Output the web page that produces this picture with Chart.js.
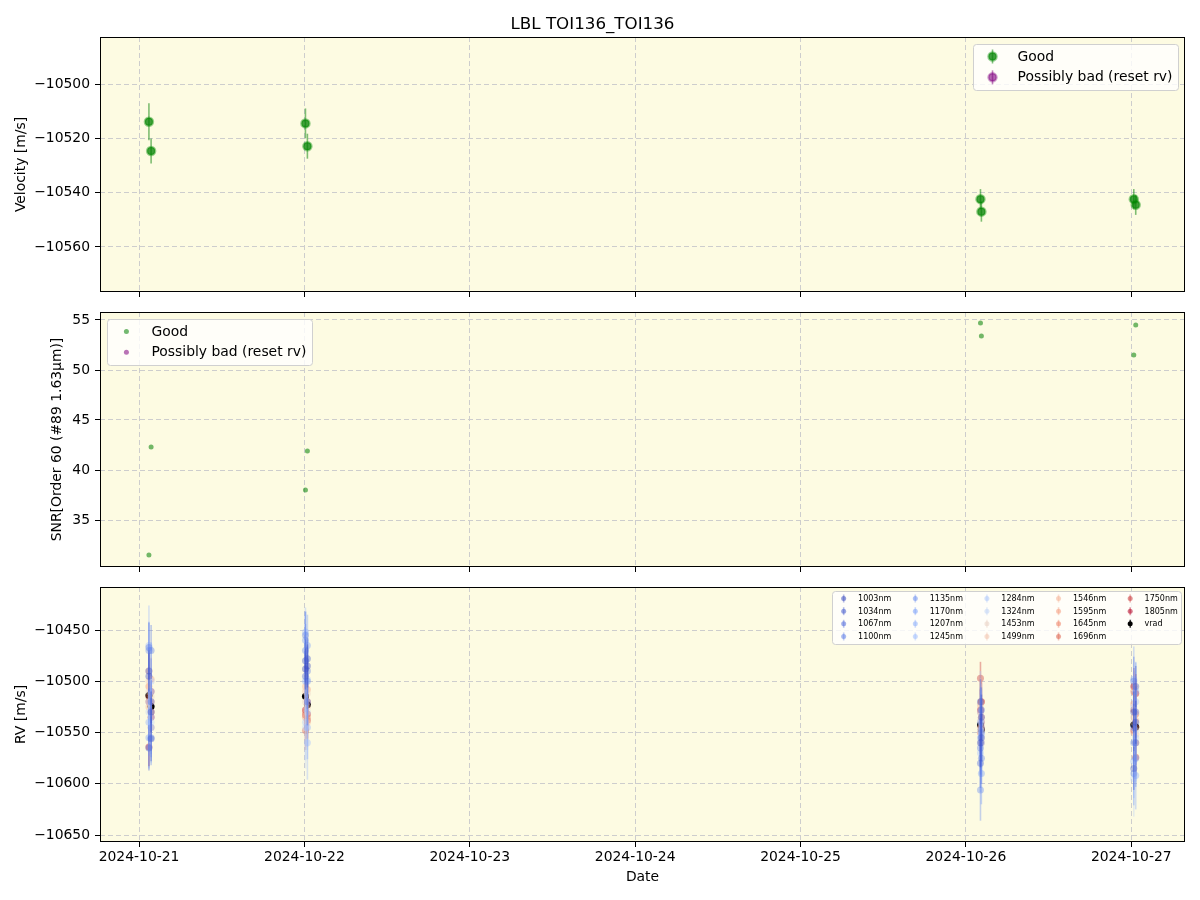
<!DOCTYPE html>
<html>
<head>
<meta charset="utf-8">
<script src="https://cdn.jsdelivr.net/npm/chart.js@4.4.1/dist/chart.umd.min.js"></script>
<style>
    body { margin: 0; background: #ffffff; width: 1200px; height: 900px; position: relative; overflow: hidden; }
    canvas { position: absolute; left: 0; }
</style>
</head>
<body>
<canvas id="velocity-chart" width="1200" height="300" style="top:0px"></canvas>
<canvas id="snr-chart" width="1200" height="275" style="top:300px"></canvas>
<canvas id="rv-chart" width="1200" height="325" style="top:575px"></canvas>
<script>
// LBL TOI136 - velocity, SNR and per-band RV panels

// observation times (UTC)
var obsTimes = ['2024-10-21T01:26', '2024-10-21T01:45', '2024-10-22T00:09', '2024-10-22T00:26',
                '2024-10-26T02:07', '2024-10-26T02:15', '2024-10-27T00:22', '2024-10-27T00:39'];

// top panel: velocity [m/s] and errors
var velocity = [-10513.9, -10524.7, -10514.5, -10522.9, -10542.4, -10547.0, -10542.4, -10544.5];
var velocityErr = [6.8, 4.6, 5.5, 4.6, 3.7, 3.7, 3.7, 3.7];

// middle panel: SNR order 60
var snr = [31.5, 42.3, 38.0, 41.9, 54.7, 53.4, 51.5, 54.5];

// bottom panel: RV per wavelength band
var wavelengths = [1003, 1034, 1067, 1100, 1135, 1170, 1207, 1245, 1284, 1324, 1453, 1499, 1546, 1595, 1645, 1696, 1750, 1805];
var rvByWave = [
    [-10495, -10530, -10488, -10485, -10560, -10535, -10530, -10540],
    [-10490, -10556, -10480, -10478, -10520, -10555, -10585, -10505],
    [-10565, -10520, -10495, -10520, -10580, -10528, -10545, -10560],
    [-10467, -10470, -10455, -10490, -10565, -10575, -10500, -10530],
    [-10470, -10555, -10470, -10500, -10606, -10550, -10560, -10575],
    [-10555, -10545, -10460, -10465, -10555, -10590, -10590, -10510],
    [-10540, -10510, -10500, -10545, -10540, -10560, -10498, -10592],
    [-10465, -10535, -10452, -10560, -10570, -10545, -10578, -10520],
    [-10520, -10500, -10540, -10498, -10530, -10552, -10525, -10555],
    [-10530, -10540, -10545, -10530, -10548, -10540, -10595, -10548],
    [-10510, -10515, -10520, -10512, -10538, -10555, -10540, -10530],
    [-10500, -10530, -10510, -10525, -10525, -10548, -10535, -10552],
    [-10525, -10545, -10505, -10540, -10522, -10560, -10550, -10538],
    [-10490, -10498, -10535, -10508, -10545, -10535, -10522, -10560],
    [-10505, -10520, -10530, -10535, -10530, -10520, -10510, -10545],
    [-10515, -10530, -10548, -10520, -10550, -10545, -10528, -10532],
    [-10520, -10510, -10533, -10538, -10497, -10540, -10548, -10574],
    [-10564, -10535, -10528, -10532, -10528, -10520, -10505, -10512]
];
var errByWave = [
    [22, 20, 20, 21, 24, 22, 20, 21],
    [20, 22, 21, 20, 22, 23, 21, 20],
    [22, 21, 22, 23, 24, 22, 23, 22],
    [24, 25, 23, 24, 26, 25, 24, 25],
    [28, 27, 26, 27, 30, 28, 27, 28],
    [30, 29, 28, 30, 32, 30, 31, 29],
    [33, 32, 30, 31, 34, 33, 32, 33],
    [39, 36, 24, 36, 38, 37, 36, 38],
    [40, 38, 37, 38, 40, 39, 38, 40],
    [38, 40, 40, 37, 39, 38, 37, 38],
    [30, 28, 29, 30, 31, 30, 29, 30],
    [26, 25, 24, 25, 27, 26, 25, 26],
    [24, 23, 22, 24, 25, 24, 23, 24],
    [22, 21, 21, 22, 23, 22, 22, 23],
    [21, 20, 20, 21, 22, 21, 20, 22],
    [20, 19, 19, 20, 21, 20, 19, 20],
    [17, 18, 17, 18, 16, 19, 18, 18],
    [19, 20, 18, 19, 20, 19, 18, 19]
];

// axis ticks and limits
var dayTicks = ['2024-10-21', '2024-10-22', '2024-10-23', '2024-10-24', '2024-10-25', '2024-10-26', '2024-10-27'];
var dateMin = '2024-10-20T18:20';
var dateMax = '2024-10-27T07:48';
var velTicks = [-10560, -10540, -10520, -10500];
var snrTicks = [35, 40, 45, 50, 55];
var rvTicks = [-10650, -10600, -10550, -10500, -10450];

var FONT = '"DejaVu Sans", sans-serif';
var FS = 13.9;
Chart.defaults.font.family = FONT;
Chart.defaults.font.size = FS;
Chart.defaults.color = '#000';

function toMs(s) {
    return Date.parse(s + ':00Z');
}

function minusSign(v) {
    return String(v).replace('-', '\u2212');
}

var obsX = obsTimes.map(toMs);

// matplotlib coolwarm colormap stops
var coolwarmStops = [[59, 76, 192], [89, 119, 227], [123, 159, 249], [158, 190, 255], [192, 212, 245],
    [221, 220, 220], [242, 203, 183], [247, 172, 142], [238, 132, 104], [214, 82, 68], [180, 4, 38]];

function coolwarm(t, a) {
    var p = Math.max(0, Math.min(1, t)) * 10;
    var k = Math.min(9, Math.floor(p));
    var f = p - k;
    var c = coolwarmStops[k].map(function (v, j) {
        return Math.round(v + (coolwarmStops[k + 1][j] - v) * f);
    });
    return 'rgba(' + c.join(',') + ',' + a + ')';
}

// plot area background
var bgPlugin = {
    id: 'bgPlugin',
    beforeDraw: function (chart) {
        var a = chart.chartArea;
        chart.ctx.save();
        chart.ctx.fillStyle = '#fdfbe2';
        chart.ctx.fillRect(a.left, a.top, a.right - a.left, a.bottom - a.top);
        chart.ctx.restore();
    }
};

// black box around plot area
var framePlugin = {
    id: 'framePlugin',
    afterDatasetsDraw: function (chart) {
        var a = chart.chartArea;
        var ctx = chart.ctx;
        ctx.save();
        ctx.strokeStyle = '#000';
        ctx.lineWidth = 1;
        ctx.strokeRect(Math.round(a.left) + 0.5, Math.round(a.top) + 0.5,
            Math.round(a.right - a.left) - 1, Math.round(a.bottom - a.top) - 1);
        ctx.restore();
    }
};

// vertical error bars, drawn under each dataset's points
var errorBarPlugin = {
    id: 'errorBarPlugin',
    beforeDatasetDraw: function (chart, args) {
        var ds = chart.data.datasets[args.index];
        if (!ds.errors) return;
        var yScale = chart.scales.y;
        var a = chart.chartArea;
        var ctx = chart.ctx;
        ctx.save();
        ctx.beginPath();
        ctx.rect(a.left, a.top, a.right - a.left, a.bottom - a.top);
        ctx.clip();
        ctx.strokeStyle = ds.errorColor;
        ctx.lineWidth = ds.errorWidth || 1.5;
        args.meta.data.forEach(function (pt, i) {
            var v = ds.data[i].y;
            var e = ds.errors[i];
            ctx.beginPath();
            ctx.moveTo(pt.x, yScale.getPixelForValue(v + e));
            ctx.lineTo(pt.x, yScale.getPixelForValue(v - e));
            ctx.stroke();
        });
        ctx.restore();
    }
};

// matplotlib style legend box (column major)
var boxLegendPlugin = {
    id: 'boxLegend',
    afterDraw: function (chart, args, opts) {
        var ctx = chart.ctx;
        var a = chart.chartArea;
        var f = opts.fontSize;
        var items = chart.data.datasets;
        var ncol = opts.columns || 1;
        var nrow = Math.ceil(items.length / ncol);
        var pad = 0.4 * f, handleLen = 2 * f, textPad = 0.8 * f, colSpace = 2 * f;
        var rowH = (opts.textH || 1) * f, rowGap = 0.5 * f, axPad = 0.5 * f;
        ctx.save();
        ctx.font = f + 'px ' + FONT;
        var colW = [];
        items.forEach(function (ds, i) {
            var c = Math.floor(i / nrow);
            colW[c] = Math.max(colW[c] || 0, ctx.measureText(ds.label).width);
        });
        var width = 2 * pad + (ncol - 1) * colSpace;
        colW.forEach(function (w) { width += handleLen + textPad + w; });
        var height = 2 * pad + nrow * rowH + (nrow - 1) * rowGap;
        var x0 = opts.align === 'right' ? a.right - axPad - width : a.left + axPad;
        var y0 = a.top + axPad;

        ctx.beginPath();
        ctx.roundRect(Math.round(x0) + 0.5, Math.round(y0) + 0.5, Math.round(width), Math.round(height), 3);
        ctx.fillStyle = 'rgba(255,255,255,0.8)';
        ctx.fill();
        ctx.strokeStyle = '#d0d0d0';
        ctx.lineWidth = 1;
        ctx.stroke();

        var colX = [x0 + pad];
        for (var c = 1; c < colW.length; c++) {
            colX[c] = colX[c - 1] + handleLen + textPad + colW[c - 1] + colSpace;
        }
        items.forEach(function (ds, i) {
            var c = Math.floor(i / nrow);
            var r = i % nrow;
            var cx = colX[c] + handleLen / 2;
            var cy = y0 + pad + r * (rowH + rowGap) + rowH / 2;
            if (opts.barHalf) {
                ctx.strokeStyle = ds.errorColor;
                ctx.lineWidth = ds.errorWidth || 1.5;
                ctx.beginPath();
                ctx.moveTo(cx, cy - opts.barHalf);
                ctx.lineTo(cx, cy + opts.barHalf);
                ctx.stroke();
            }
            ctx.beginPath();
            ctx.arc(cx, cy, opts.markerR, 0, Math.PI * 2);
            ctx.fillStyle = ds.legendColor || ds.backgroundColor;
            ctx.fill();
            if (ds.borderWidth) {
                ctx.strokeStyle = ds.borderColor;
                ctx.lineWidth = ds.borderWidth;
                ctx.stroke();
            }
            ctx.fillStyle = '#000';
            ctx.textBaseline = 'middle';
            ctx.textAlign = 'left';
            ctx.fillText(ds.label, colX[c] + handleLen + textPad, cy + 0.5);
        });
        ctx.restore();
    }
};

var gridStyle = {
    color: '#cdcdcd',
    lineWidth: 1,
    drawTicks: true,
    tickLength: 5,
    tickColor: '#000',
    tickBorderDash: [],
    tickWidth: 1
};

function dateAxis(showLabels, height) {
    return {
        type: 'linear',
        min: toMs(dateMin),
        max: toMs(dateMax),
        afterBuildTicks: function (scale) {
            scale.ticks = dayTicks.map(function (d) { return { value: toMs(d + 'T00:00') }; });
        },
        afterFit: function (scale) {
            scale.height = height;
            scale.paddingLeft = 0;
            scale.paddingRight = 0;
        },
        grid: gridStyle,
        border: { display: false, dash: [5, 3] },
        ticks: {
            display: showLabels,
            padding: 2,
            maxRotation: 0,
            autoSkip: false,
            callback: function (v) { return new Date(v).toISOString().slice(0, 10); }
        },
        title: {
            display: showLabels,
            text: 'Date',
            padding: { top: 2, bottom: 14 }
        }
    };
}

function valueAxis(min, max, tickList, label, titleLeft) {
    return {
        min: min,
        max: max,
        afterBuildTicks: function (scale) {
            scale.ticks = tickList.map(function (v) { return { value: v }; });
        },
        afterFit: function (scale) {
            scale.width = 100;
            scale.paddingTop = 0;
            scale.paddingBottom = 0;
        },
        grid: gridStyle,
        border: { display: false, dash: [5, 3] },
        ticks: {
            padding: 5,
            callback: function (v) { return minusSign(v); }
        },
        title: {
            display: true,
            text: label,
            padding: { top: titleLeft, bottom: 2 }
        }
    };
}

function baseOptions(xAxis, yAxis, padTop, legendOpts) {
    return {
        responsive: false,
        animation: false,
        events: [],
        layout: { padding: { top: padTop, right: 15, left: 0, bottom: 0 } },
        scales: { x: xAxis, y: yAxis },
        plugins: {
            legend: { display: false },
            tooltip: { enabled: false },
            boxLegend: legendOpts
        }
    };
}

// ---- top panel: velocity ----
var velData = {
    datasets: [{
        label: 'Good',
        data: obsX.map(function (x, i) { return { x: x, y: velocity[i] }; }),
        errors: velocityErr,
        errorColor: 'rgba(0,128,0,0.5)',
        errorWidth: 1.6,
        backgroundColor: 'rgba(0,128,0,0.75)',
        borderColor: 'rgba(0,140,0,0.4)',
        borderWidth: 2.5,
        pointRadius: 4
    }, {
        label: 'Possibly bad (reset rv)',
        data: [],
        errors: [],
        errorColor: 'rgba(128,0,128,0.5)',
        errorWidth: 1.6,
        backgroundColor: 'rgba(128,0,128,0.6)',
        borderColor: 'rgba(128,0,128,0.35)',
        borderWidth: 2.5,
        pointRadius: 4
    }]
};
var velOptions = baseOptions(dateAxis(false, 8), valueAxis(-10576.6, -10482.7, velTicks, 'Velocity [m/s]', 12.7), 0,
    { fontSize: FS, align: 'right', markerR: 4, barHalf: 7 });
velOptions.plugins.title = {
    display: true,
    text: 'LBL TOI136_TOI136',
    font: { size: 16.7, weight: 'normal' },
    color: '#000',
    padding: { top: 15, bottom: 2 }
};
new Chart(document.getElementById('velocity-chart').getContext('2d'), {
    type: 'scatter',
    data: velData,
    options: velOptions,
    plugins: [bgPlugin, errorBarPlugin, framePlugin, boxLegendPlugin]
});

// ---- middle panel: SNR ----
var snrData = {
    datasets: [{
        label: 'Good',
        data: obsX.map(function (x, i) { return { x: x, y: snr[i] }; }),
        backgroundColor: 'rgba(0,128,0,0.55)',
        borderWidth: 0,
        pointRadius: 2.5
    }, {
        label: 'Possibly bad (reset rv)',
        data: [],
        backgroundColor: 'rgba(128,0,128,0.55)',
        borderWidth: 0,
        pointRadius: 2.5
    }]
};
new Chart(document.getElementById('snr-chart').getContext('2d'), {
    type: 'scatter',
    data: snrData,
    options: baseOptions(dateAxis(false, 8), valueAxis(30.3, 55.8, snrTicks, 'SNR[Order 60 (#89 1.63\u03BCm)]', 48.7), 12,
        { fontSize: FS, align: 'left', markerR: 2.5, barHalf: 0 }),
    plugins: [bgPlugin, errorBarPlugin, framePlugin, boxLegendPlugin]
});

// ---- bottom panel: RV per band ----
var wMin = wavelengths[0];
var wMax = wavelengths[wavelengths.length - 1];
var rvDatasets = wavelengths.map(function (w, i) {
    var t = (w - wMin) / (wMax - wMin);
    return {
        label: w + 'nm',
        data: obsX.map(function (x, j) { return { x: x, y: rvByWave[i][j] }; }),
        errors: errByWave[i],
        errorColor: coolwarm(t, 0.4),
        errorWidth: 1.6,
        backgroundColor: coolwarm(t, 0.4),
        legendColor: coolwarm(t, 0.55),
        borderWidth: 0,
        pointRadius: 3.5
    };
});
rvDatasets.push({
    label: 'vrad',
    data: obsX.map(function (x, i) { return { x: x, y: velocity[i] }; }),
    errors: velocityErr,
    errorColor: '#000',
    errorWidth: 1.2,
    backgroundColor: '#000',
    borderWidth: 0,
    pointRadius: 3.5
});
new Chart(document.getElementById('rv-chart').getContext('2d'), {
    type: 'scatter',
    data: { datasets: rvDatasets },
    options: baseOptions(dateAxis(true, 58), valueAxis(-10656.8, -10408, rvTicks, 'RV [m/s]', 12.7), 12,
        { fontSize: 8, textH: 1.08, align: 'right', markerR: 2.5, barHalf: 4, columns: 5 }),
    plugins: [bgPlugin, errorBarPlugin, framePlugin, boxLegendPlugin]
});
</script>
</body>
</html>
